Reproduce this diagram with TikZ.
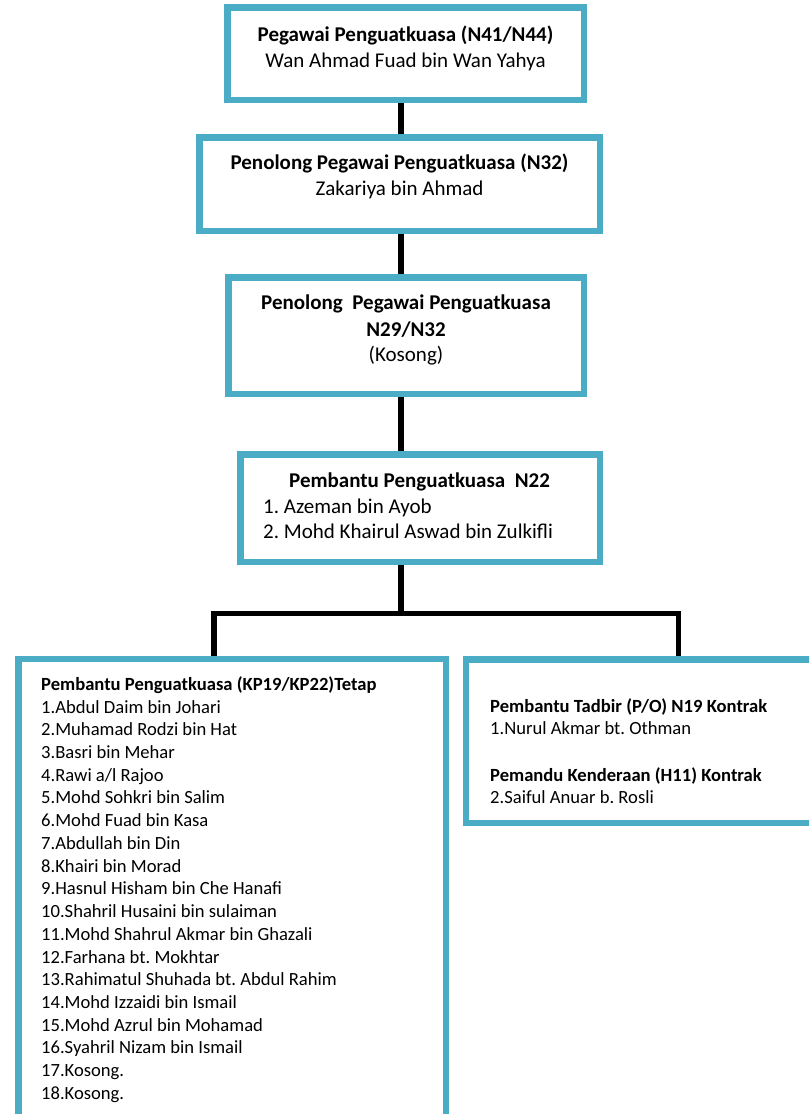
\documentclass[tikz,border=0pt]{standalone}
\usepackage{fontspec}
\setmainfont{Carlito}
\definecolor{boxblue}{HTML}{4BACC6}
\frenchspacing
\begin{document}
\begin{tikzpicture}[x=1pt,y=-1pt,
  orgbox/.style={draw=boxblue, line width=6.5pt, rectangle, inner sep=0pt, fill=white},
  conn/.style={draw=black, line width=5.5pt},
  big/.style={font=\fontsize{21}{25.8}\selectfont\frenchspacing, inner sep=0pt},
  small/.style={font=\fontsize{18.6}{22.7}\selectfont\frenchspacing, inner sep=0pt}]
\useasboundingbox[fill=white] (0,0) rectangle (809,1114);
\clip (0,0) rectangle (809,1114);
% boxes
\node[orgbox, minimum width=356.5pt, minimum height=92.5pt] (b1) at (405.5,53.5) {};
\node[orgbox, minimum width=400.5pt, minimum height=93.5pt] (b2) at (399.5,184) {};
\node[orgbox, minimum width=355.5pt, minimum height=116.5pt] (b3) at (406,335.5) {};
\node[orgbox, minimum width=359.5pt, minimum height=107.5pt] (b4) at (420,508) {};
\node[orgbox, minimum width=427.5pt, minimum height=470.75pt] (left) at (232,894.6) {};
\node[orgbox, minimum width=363.75pt, minimum height=163.5pt] (right) at (648.1,741) {};
% connectors
\coordinate (spine) at (401,0);
\coordinate (barM) at (401,613.5);
\coordinate (barL) at (214,613.5);
\coordinate (barR) at (678.5,613.5);
\draw[conn] (b1.south -| spine) -- (b2.north -| spine);
\draw[conn] (b2.south -| spine) -- (b3.north -| spine);
\draw[conn] (b3.south -| spine) -- (b4.north -| spine);
\draw[conn] (b4.south -| spine) -- (barM);
\draw[conn, line join=miter] (left.north -| barL) -- (barL) -- (barR) -- (right.north -| barR);
% texts of the upper boxes
\node[big, anchor=base] (t1a) at (405.5,41) {\textbf{Pegawai Penguatkuasa (N41/N44)}};
\node[big, anchor=base] (t1b) at (405.5,67) {Wan Ahmad Fuad bin Wan Yahya};
\node[big, anchor=base] (t2a) at (399.5,169.5) {\textbf{Penolong Pegawai Penguatkuasa (N32)}};
\node[big, anchor=base] (t2b) at (399.5,195.5) {Zakariya bin Ahmad};
\node[big, anchor=base] (t3a) at (406,309.5) {\textbf{Penolong\ \ Pegawai Penguatkuasa}};
\node[big, anchor=base] (t3b) at (406,336) {\textbf{N29/N32}};
\node[big, anchor=base] (t3c) at (406,361) {(Kosong)};
\node[big, anchor=base] (t4a) at (419.5,487) {\textbf{Pembantu Penguatkuasa\ \ N22}};
\node[big, anchor=base west] (t4b) at (263,513) {1. Azeman bin Ayob};
\node[big, anchor=base west] (t4c) at (263,538.5) {2. Mohd Khairul Aswad bin Zulkifli};
% left list
\node[small, anchor=base west] (lt) at (41,690) {\textbf{Pembantu Penguatkuasa (KP19/KP22)Tetap}};
\foreach \i/\t in {1/Abdul Daim bin Johari, 2/Muhamad Rodzi bin Hat, 3/Basri bin Mehar,
  4/Rawi a\slash l Rajoo, 5/Mohd Sohkri bin Salim, 6/Mohd Fuad bin Kasa, 7/Abdullah bin Din,
  8/Khairi bin Morad, 9/Hasnul Hisham bin Che Hanafi, 10/Shahril Husaini bin sulaiman,
  11/Mohd Shahrul Akmar bin Ghazali, 12/Farhana bt. Mokhtar, 13/Rahimatul Shuhada bt. Abdul Rahim,
  14/Mohd Izzaidi bin Ismail, 15/Mohd Azrul bin Mohamad, 16/Syahril Nizam bin Ismail,
  17/Kosong., 18/Kosong.}
  \node[small, anchor=base west] (l\i) at (41,{713+(\i-1)*22.73}) {\i.\t};
% right list
\node[small, anchor=base west] (r1) at (490,712.7) {\textbf{Pembantu Tadbir (P/O) N19 Kontrak}};
\node[small, anchor=base west] (r2) at (490,734.3) {1.Nurul Akmar bt. Othman};
\node[small, anchor=base west] (r3) at (490,781) {\textbf{Pemandu Kenderaan (H11) Kontrak}};
\node[small, anchor=base west] (r4) at (490,803.3) {2.Saiful Anuar b. Rosli};
\end{tikzpicture}
\end{document}
